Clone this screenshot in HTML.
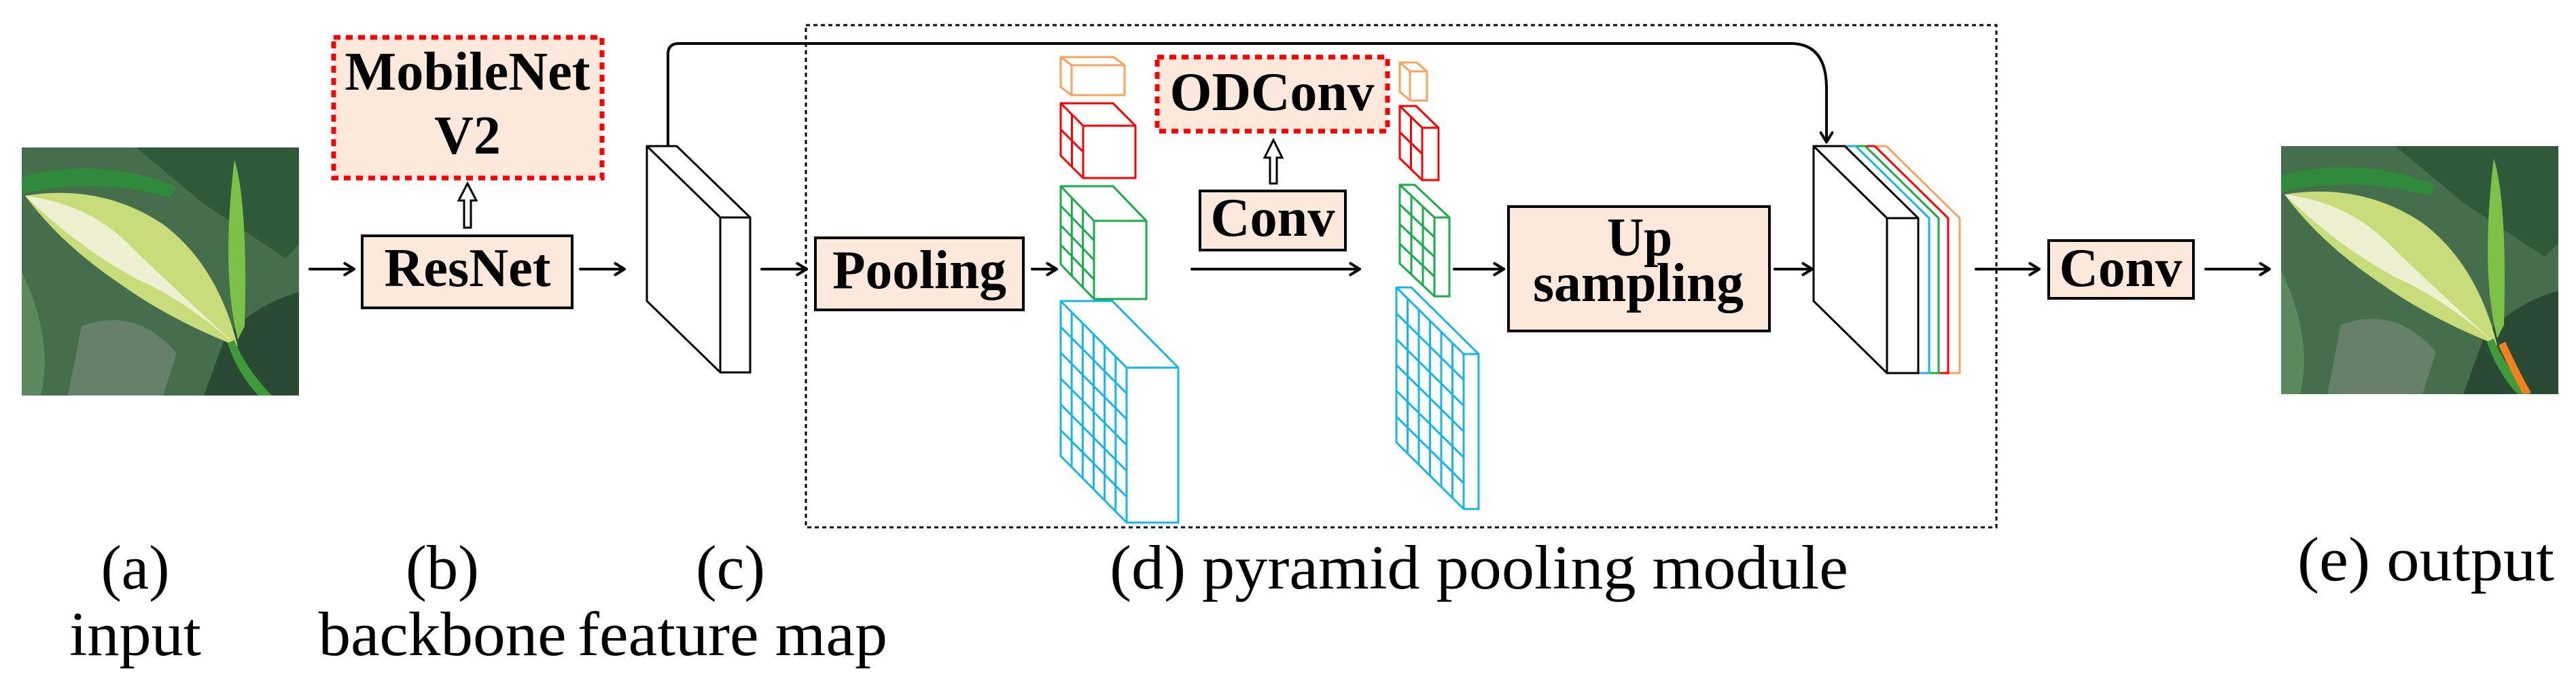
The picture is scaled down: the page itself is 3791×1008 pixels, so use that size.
<!DOCTYPE html>
<html><head><meta charset="utf-8"><style>
html,body{margin:0;padding:0;background:#fff;}
svg{display:block;font-family:"Liberation Serif","Times New Roman",Times,serif;}
.b{font-family:"Liberation Serif","Times New Roman",Times,serif;font-weight:bold;fill:#000;}
.n{font-family:"Liberation Serif","Times New Roman",Times,serif;fill:#000;}
</style></head><body>
<svg id="s" width="3791" height="1008" viewBox="0 0 3791 1008" xmlns="http://www.w3.org/2000/svg" font-family="Liberation Serif, Times New Roman, serif">
<defs>
<clipPath id="pc"><rect x="32" y="217" width="408" height="365"/></clipPath>
<g id="photo">
<rect x="32" y="217" width="408" height="365" fill="#3d6a45"/>
<g clip-path="url(#pc)">
<rect x="32" y="217" width="408" height="365" fill="#456f4c"/>
<path d="M32 260 Q150 230 260 275 L250 290 Q140 260 32 285Z" fill="#2f8a3c"/>
<path d="M32 400 Q80 500 60 582 L32 582Z" fill="#5a8a5e"/>
<path d="M200 217 L300 300 L420 380 L440 360 L440 217Z" fill="#2f5a3a"/>
<path d="M120 480 Q200 450 260 520 L240 582 L100 582Z" fill="#66806a"/>
<path d="M330 500 Q370 450 440 430 L440 582 L300 582Z" fill="#2a4a33"/>
<path d="M37 288 Q150 270 240 330 Q320 390 350 510 Q250 470 180 420 Q90 360 37 288Z" fill="#c8dc7a"/>
<path d="M37 288 Q130 300 190 360 Q230 400 350 510 Q270 440 200 410 Q110 360 37 288Z" fill="#eef0d2"/>
<path d="M345 235 Q365 300 360 480 L350 500 Q325 400 345 235Z" fill="#7cc248"/>
<path d="M345 500 Q360 540 400 582 L380 582 Q350 550 335 505Z" fill="#3f9a3a"/>
</g>
</g>
</defs>

<use href="#photo"/>
<g transform="translate(3325,-2)"><use href="#photo"/><path d="M352 510 L362 505 Q380 545 400 580 L388 582 Q368 545 352 510Z" fill="#f08020"/></g>

<rect x="1186" y="37" width="1752" height="739" fill="none" stroke="#000" stroke-width="3" stroke-dasharray="6 5"/>

<rect x="491" y="55" width="395" height="207" fill="#fde9dc" stroke="#f00" stroke-width="7" stroke-dasharray="10 8"/>
<text class="b" font-family="Liberation Serif, serif" font-weight="bold" x="688" y="132" font-size="80" text-anchor="middle" textLength="361" lengthAdjust="spacingAndGlyphs">MobileNet</text>
<text class="b" font-family="Liberation Serif, serif" font-weight="bold" x="688" y="226" font-size="80" text-anchor="middle">V2</text>
<rect x="533" y="347" width="309" height="106" fill="#fde9dc" stroke="#000" stroke-width="4"/>
<text class="b" font-family="Liberation Serif, serif" font-weight="bold" x="688" y="421" font-size="80" text-anchor="middle" textLength="245" lengthAdjust="spacingAndGlyphs">ResNet</text>
<rect x="1200" y="350" width="306" height="106" fill="#fde9dc" stroke="#000" stroke-width="4"/>
<text class="b" font-family="Liberation Serif, serif" font-weight="bold" x="1353" y="424" font-size="80" text-anchor="middle" textLength="256" lengthAdjust="spacingAndGlyphs">Pooling</text>
<rect x="1703" y="84" width="339" height="109" fill="#fde9dc" stroke="#f00" stroke-width="7" stroke-dasharray="10 8"/>
<text class="b" font-family="Liberation Serif, serif" font-weight="bold" x="1872" y="162" font-size="80" text-anchor="middle" textLength="301" lengthAdjust="spacingAndGlyphs">ODConv</text>
<rect x="1766" y="281" width="214" height="87" fill="#fde9dc" stroke="#000" stroke-width="4"/>
<text class="b" font-family="Liberation Serif, serif" font-weight="bold" x="1873" y="347" font-size="80" text-anchor="middle" textLength="183" lengthAdjust="spacingAndGlyphs">Conv</text>
<rect x="2220" y="304" width="384" height="183" fill="#fde9dc" stroke="#000" stroke-width="4"/>
<text class="b" font-family="Liberation Serif, serif" font-weight="bold" x="2413" y="376" font-size="80" text-anchor="middle" textLength="96" lengthAdjust="spacingAndGlyphs">Up</text>
<text class="b" font-family="Liberation Serif, serif" font-weight="bold" x="2411" y="443" font-size="80" text-anchor="middle" textLength="310" lengthAdjust="spacingAndGlyphs">sampling</text>
<rect x="3015" y="354" width="213" height="85" fill="#fde9dc" stroke="#000" stroke-width="4"/>
<text class="b" font-family="Liberation Serif, serif" font-weight="bold" x="3121" y="421" font-size="80" text-anchor="middle" textLength="181" lengthAdjust="spacingAndGlyphs">Conv</text>

<path d="M683 335 L683 295 L675 295 L688 270 L701 295 L693 295 L693 335Z" fill="#fff" stroke="#000" stroke-width="3"/>
<path d="M1869 270 L1869 232 L1861 232 L1874 206 L1887 232 L1879 232 L1879 270Z" fill="#fff" stroke="#000" stroke-width="3"/>

<g id="lines" stroke="#000" stroke-width="4" fill="none" stroke-linecap="round" stroke-linejoin="round"></g>
<g id="shapes" fill="none" stroke-width="3" stroke-linejoin="miter"></g>

<text class="n" font-family="Liberation Serif, serif" x="199" y="866" font-size="92" text-anchor="middle" textLength="101" lengthAdjust="spacingAndGlyphs">(a)</text>
<text class="n" font-family="Liberation Serif, serif" x="199" y="964" font-size="92" text-anchor="middle" textLength="194" lengthAdjust="spacingAndGlyphs">input</text>
<text class="n" font-family="Liberation Serif, serif" x="651" y="866" font-size="92" text-anchor="middle" textLength="108" lengthAdjust="spacingAndGlyphs">(b)</text>
<text class="n" font-family="Liberation Serif, serif" x="651" y="964" font-size="92" text-anchor="middle" textLength="365" lengthAdjust="spacingAndGlyphs">backbone</text>
<text class="n" font-family="Liberation Serif, serif" x="1075" y="866" font-size="92" text-anchor="middle" textLength="102" lengthAdjust="spacingAndGlyphs">(c)</text>
<text class="n" font-family="Liberation Serif, serif" x="1078" y="964" font-size="92" text-anchor="middle" textLength="456" lengthAdjust="spacingAndGlyphs">feature map</text>
<text class="n" font-family="Liberation Serif, serif" x="1633" y="866" font-size="92" textLength="1087" lengthAdjust="spacingAndGlyphs">(d) pyramid pooling module</text>
<text class="n" font-family="Liberation Serif, serif" x="3381" y="854" font-size="92" textLength="378" lengthAdjust="spacingAndGlyphs">(e) output</text>
</svg>
<script>
var NS="http://www.w3.org/2000/svg";
var L=document.getElementById("lines"),S=document.getElementById("shapes");
function el(p,t,a){var e=document.createElementNS(NS,t);for(var k in a)e.setAttribute(k,a[k]);p.appendChild(e);return e;}
function arrow(x1,y1,x2,y2){el(L,"line",{x1:x1,y1:y1,x2:x2,y2:y2});
 var a=Math.atan2(y2-y1,x2-x1),s=16,w=0.55;
 el(L,"polyline",{points:(x2-s*Math.cos(a-w))+","+(y2-s*Math.sin(a-w))+" "+x2+","+y2+" "+(x2-s*Math.cos(a+w))+","+(y2-s*Math.sin(a+w))});}
arrow(456,396,521,396);arrow(854,396,919,396);arrow(1121,396,1187,396);
arrow(1519,396,1555,396);arrow(1754,396,2001,396);arrow(2140,396,2213,396);
arrow(2612,396,2667,396);arrow(2908,396,3001,396);arrow(3246,396,3340,396);
el(L,"path",{d:"M983 215 L983 80 Q983 64 999 64 L2635 64 Q2688 64 2688 130 L2688 209"});
arrow(2688,190,2688,209);
function box(x0,y0,dx,dy,w,h,c,cols,rows,sw){
 var g=el(S,"g",{stroke:c,"stroke-width":sw||3});
 el(g,"polygon",{points:[x0,y0,x0+w,y0,x0+dx+w,y0+dy,x0+dx+w,y0+dy+h,x0+dx,y0+dy+h,x0,y0+h].join(" "),fill:"#fff"});
 el(g,"line",{x1:x0,y1:y0,x2:x0+dx,y2:y0+dy});
 el(g,"polyline",{points:[x0+dx,y0+dy+h,x0+dx,y0+dy,x0+dx+w,y0+dy].join(" ")});
 for(var i=1;i<cols;i++){var t=i/cols;el(g,"line",{x1:x0+t*dx,y1:y0+t*dy,x2:x0+t*dx,y2:y0+t*dy+h});}
 for(var j=1;j<rows;j++){var s=j/rows;el(g,"line",{x1:x0,y1:y0+s*h,x2:x0+dx,y2:y0+dy+s*h});}
}
box(952,215,108,105,44,228,"#000",1,1,3);
box(1561,84,16,12,78,44,"#f7a35c",1,1);
box(1561,152,33,33,77,77,"#f00",2,2);
box(1561,274,49,51,77,115,"#1aab4b",3,4);
box(1561,443,97,98,76,228,"#18b4ec",6,6);
box(2060,92,15,13,25,43,"#f7a35c",1,1);
box(2060,156,33,32,24,77,"#f00",2,2);
box(2060,272,51,48,22,116,"#1aab4b",3,4);
box(2055,423,99,98,22,228,"#18b4ec",6,6);
var cols=[["#f7a35c",2884],["#f00",2867],["#1aab4b",2853],["#18b4ec",2839]];
cols.forEach(function(c){var g=el(S,"g",{stroke:c[0],"stroke-width":3});
 el(g,"polyline",{points:[c[1]-108,215,c[1],321,c[1],549,c[1]-16,549].join(" ")});
 el(g,"line",{x1:c[1]-108,y1:215,x2:c[1]-124,y2:215});});
box(2669,215,108,106,46,228,"#000",1,1,3);
</script>
</body></html>
